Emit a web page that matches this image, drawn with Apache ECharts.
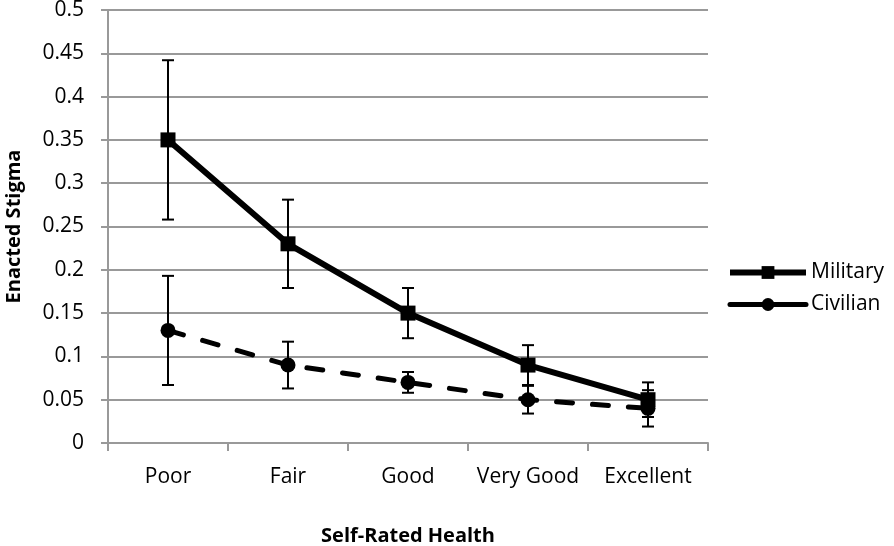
<!DOCTYPE html>
<html><head><meta charset="utf-8">
<script src="https://cdn.jsdelivr.net/npm/echarts@6/dist/echarts.min.js"></script>
<style>html,body{margin:0;padding:0;background:#fff}#c{width:894px;height:546px}</style>
</head><body><div id="c"></div>
<script>
const categories = ['Poor', 'Fair', 'Good', 'Very Good', 'Excellent'];
const militaryValues = [0.35, 0.23, 0.15, 0.09, 0.05];
const militaryLow = [0.258, 0.179, 0.121, 0.067, 0.03];
const militaryHigh = [0.442, 0.281, 0.179, 0.113, 0.07];
const civilianValues = [0.13, 0.09, 0.07, 0.05, 0.04];
const civilianLow = [0.067, 0.063, 0.058, 0.034, 0.019];
const civilianHigh = [0.193, 0.117, 0.082, 0.066, 0.061];
const yTicks = ['0','0.05','0.1','0.15','0.2','0.25','0.3','0.35','0.4','0.45','0.5'];

const FONT = '"Open Sans", "Noto Sans", sans-serif';
const chart = echarts.init(document.getElementById('c'));

function errorSeries(name, low, high) {
  return {
    type: 'custom',
    name: name + ' err',
    z: 5,
    data: categories.map((c, i) => [i, low[i], high[i]]),
    renderItem: function (params, api) {
      const x = api.value(0);
      const lo = api.coord([x, api.value(1)]);
      const hi = api.coord([x, api.value(2)]);
      const hw = 6;
      const st = { stroke: '#000', lineWidth: 2 };
      return {
        type: 'group',
        children: [
          { type: 'line', shape: { x1: lo[0], y1: lo[1], x2: hi[0], y2: hi[1] }, style: st },
          { type: 'line', shape: { x1: lo[0] - hw, y1: lo[1], x2: lo[0] + hw, y2: lo[1] }, style: st },
          { type: 'line', shape: { x1: hi[0] - hw, y1: hi[1], x2: hi[0] + hw, y2: hi[1] }, style: st }
        ]
      };
    }
  };
}

chart.setOption({
  animation: false,
  backgroundColor: '#fff',
  grid: { left: 108, right: 186, top: 10, bottom: 103, outerBoundsMode: 'none', containLabel: false },
  legend: {
    data: [
      { name: 'Military', lineStyle: { width: 6 } },
      { name: 'Civilian', lineStyle: { width: 5, type: 'solid' } }
    ],
    orient: 'vertical',
    left: 722,
    top: 257,
    itemWidth: 76,
    itemHeight: 16,
    itemGap: 11,
    textStyle: { fontFamily: FONT, fontSize: 21, color: '#000' }
  },
  xAxis: {
    type: 'category',
    data: categories,
    boundaryGap: true,
    name: 'Self-Rated Health',
    nameLocation: 'middle',
    nameGap: 83,
    nameTextStyle: { fontFamily: FONT, fontSize: 20, fontWeight: 'bold', color: '#000' },
    axisLine: { lineStyle: { color: '#999', width: 2 } },
    axisTick: { show: true, length: 8, lineStyle: { color: '#999', width: 2 } },
    axisLabel: { fontFamily: FONT, fontSize: 21, color: '#000', margin: 24, interval: 0 }
  },
  yAxis: {
    type: 'value',
    min: 0, max: 0.5, interval: 0.05,
    name: 'Enacted Stigma',
    nameLocation: 'middle',
    nameGap: 84,
    nameTextStyle: { fontFamily: FONT, fontSize: 20, fontWeight: 'bold', color: '#000' },
    axisLine: { show: true, lineStyle: { color: '#999', width: 2 } },
    axisTick: { show: true, length: 7, lineStyle: { color: '#999', width: 2 } },
    splitLine: { lineStyle: { color: '#999', width: 2 } },
    axisLabel: {
      fontFamily: FONT, fontSize: 21, color: '#000', margin: 24,
      formatter: (v) => yTicks[Math.round(v / 0.05)]
    }
  },
  series: [
    {
      name: 'Military', type: 'line', data: militaryValues, z: 4,
      symbol: 'rect', symbolSize: 15,
      lineStyle: { color: '#000', width: 6 },
      itemStyle: { color: '#000' }
    },
    {
      name: 'Civilian', type: 'line', data: civilianValues, z: 4,
      symbol: 'circle', symbolSize: 15,
      lineStyle: { color: '#000', width: 5, type: [16, 20], cap: 'round' },
      itemStyle: { color: '#000' }
    },
    errorSeries('Military', militaryLow, militaryHigh),
    errorSeries('Civilian', civilianLow, civilianHigh)
  ]
});
</script></body></html>
